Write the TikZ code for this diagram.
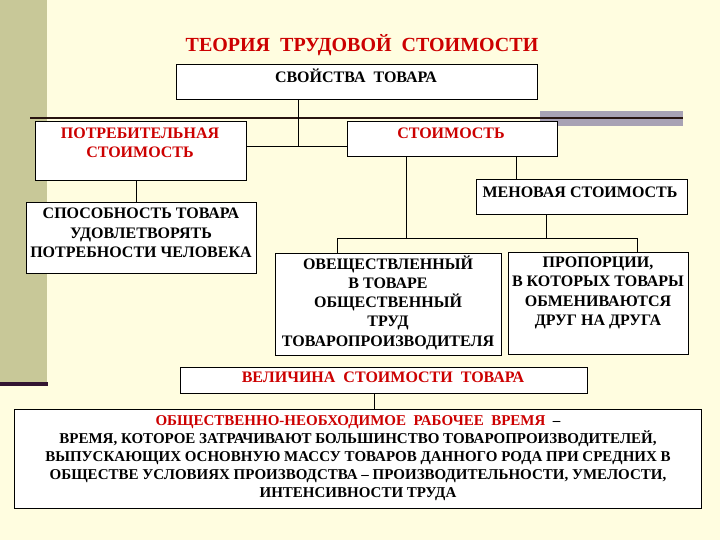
\documentclass[tikz,border=0pt]{standalone}
\usepackage{fontspec}
\setmainfont{Liberation Serif}
\usepackage{tikz}
\definecolor{fon}{RGB}{255,253,224}
\definecolor{polosa}{RGB}{200,200,152}
\definecolor{krasn}{RGB}{204,0,0}
\definecolor{seryj}{RGB}{168,162,180}
\definecolor{liniya}{RGB}{40,20,16}
\definecolor{fiol}{RGB}{50,20,50}
\tikzstyle{box}=[rectangle,draw,fill=white,line width=1pt,inner sep=0pt]
\tikzstyle{txt}=[font=\bfseries\fontsize{16}{19.3}\selectfont,align=center,inner sep=0pt]
\tikzstyle{rtxt}=[txt,text=krasn]
\tikzstyle{con}=[draw,line width=1pt]

\begin{document}
\begin{tikzpicture}[x=1pt,y=-1pt]
    \fill[fon] (0,0) rectangle (720,540);
    \useasboundingbox (0,0) rectangle (720,540);
    \fill[polosa] (0,0) rectangle (47,382);
    \fill[fiol] (0,382) rectangle (48,386);
    \fill[seryj] (540,111) rectangle (683,126);
    \draw[liniya,line width=2.5pt] (30,118) -- (683,118);

    \node[rtxt,font=\bfseries\fontsize{20}{24}\selectfont] (title) at (362,45) {ТЕОРИЯ\ \ ТРУДОВОЙ\ \ СТОИМОСТИ};

    \node[box,minimum width=361,minimum height=35] (svoj) at (356.5,82.5) {};
    \node[txt] (svojt) at (356,75.5) {СВОЙСТВА\ \ ТОВАРА};
    \node[box,minimum width=211,minimum height=59] (potr) at (140.5,151.5) {};
    \node[rtxt] (potrt) at (140,142.5) {ПОТРЕБИТЕЛЬНАЯ\\СТОИМОСТЬ};
    \node[box,minimum width=210,minimum height=35] (stoim) at (452,139.5) {};
    \node[rtxt] (stoimt) at (451,133) {СТОИМОСТЬ};
    \node[box,minimum width=211,minimum height=35] (mena) at (581.5,197.5) {};
    \node[txt] (menat) at (580,192) {МЕНОВАЯ СТОИМОСТЬ};
    \node[box,minimum width=230,minimum height=70] (spos) at (141,238) {};
    \node[txt] (spost) at (141,233) {СПОСОБНОСТЬ ТОВАРА\\УДОВЛЕТВОРЯТЬ\\ПОТРЕБНОСТИ ЧЕЛОВЕКА};
    \node[box,minimum width=226,minimum height=102] (trud) at (388,304) {};
    \node[txt] (trudt) at (388,302.5) {ОВЕЩЕСТВЛЕННЫЙ\\В ТОВАРЕ\\ОБЩЕСТВЕННЫЙ\\ТРУД\\ТОВАРОПРОИЗВОДИТЕЛЯ};
    \node[box,minimum width=180,minimum height=102] (prop) at (598,303) {};
    \node[txt] (propt) at (598,293) {ПРОПОРЦИИ,\\В КОТОРЫХ ТОВАРЫ\\ОБМЕНИВАЮТСЯ\\ДРУГ НА ДРУГА};
    \node[box,minimum width=407,minimum height=26] (vel) at (383.5,380) {};
    \node[rtxt] (velt) at (383,377) {ВЕЛИЧИНА\ \ СТОИМОСТИ\ \ ТОВАРА};
    \node[box,minimum width=687,minimum height=99] (snv) at (357.5,458.5) {};
    \node[txt,font=\bfseries\fontsize{15}{18}\selectfont] (snvt) at (358,458)
      {{\color{krasn}ОБЩЕСТВЕННО-НЕОБХОДИМОЕ\ \ РАБОЧЕЕ\ \ ВРЕМЯ}\ \ --\\
       ВРЕМЯ, КОТОРОЕ ЗАТРАЧИВАЮТ БОЛЬШИНСТВО ТОВАРОПРОИЗВОДИТЕЛЕЙ,\\
       ВЫПУСКАЮЩИХ ОСНОВНУЮ МАССУ ТОВАРОВ ДАННОГО РОДА ПРИ СРЕДНИХ В\\
       ОБЩЕСТВЕ УСЛОВИЯХ ПРОИЗВОДСТВА -- ПРОИЗВОДИТЕЛЬНОСТИ, УМЕЛОСТИ,\\
       ИНТЕНСИВНОСТИ ТРУДА};

    \coordinate (j1) at (298,147);
    \coordinate (busl) at (337,238);
    \coordinate (busr) at (637,238);
    \draw[con] ([xshift=-58.5pt]svoj.south) -- (j1);
    \draw[con] (potr.east |- j1) -- (stoim.west |- j1);
    \draw[con] ([xshift=-4.5pt]potr.south) -- ([xshift=-4.5pt]potr.south |- spos.north);
    \draw[con] ([xshift=-46pt]stoim.south) -- ([xshift=-46pt]stoim.south |- busl);
    \draw[con] ([xshift=64pt]stoim.south) -- ([xshift=64pt]stoim.south |- mena.north);
    \draw[con] ([xshift=-35.5pt]mena.south) -- ([xshift=-35.5pt]mena.south |- busr);
    \draw[con] (trud.north -| busl) -- (busl) -- (busr) -- (prop.north -| busr);
    \draw[con] ([xshift=-9.5pt]vel.south) -- ([xshift=-9.5pt]vel.south |- snv.north);
\end{tikzpicture}
\end{document}
